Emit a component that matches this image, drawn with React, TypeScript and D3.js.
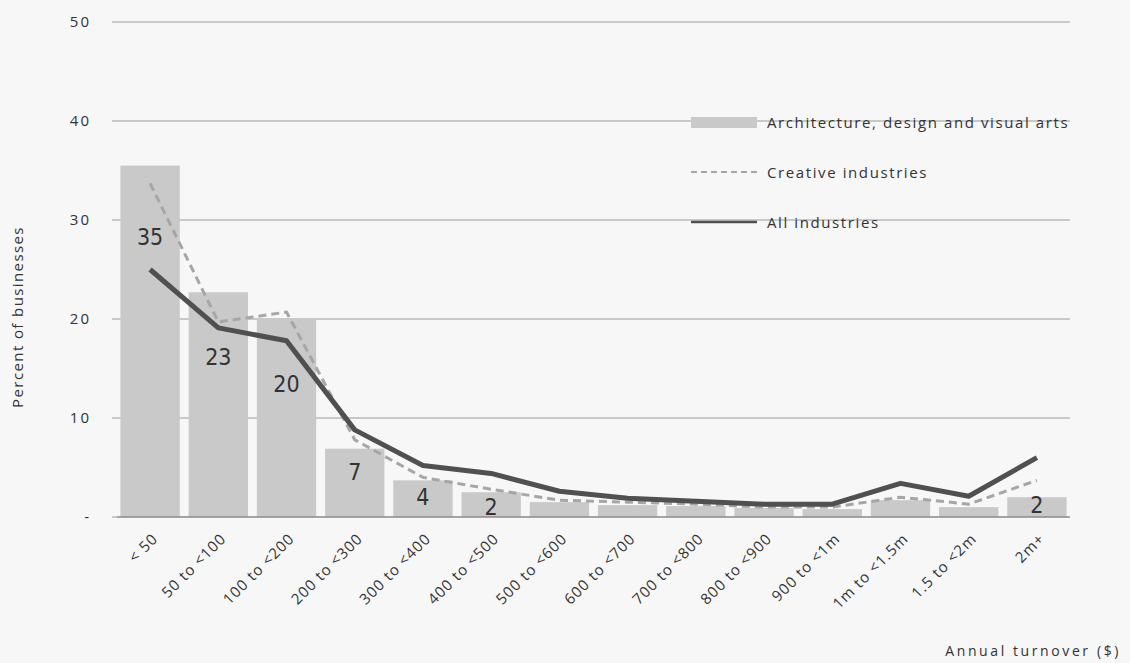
import React from "react";
import * as d3 from "d3";

const categories = ["< 50", "50 to <100", "100 to <200", "200 to <300", "300 to <400", "400 to <500", "500 to <600", "600 to <700", "700 to <800", "800 to <900", "900 to <1m", "1m to <1.5m", "1.5 to <2m", "2m+"];
const archValues = [35.5, 22.7, 19.9, 6.9, 3.7, 2.5, 1.5, 1.2, 1.1, 0.9, 0.8, 1.7, 1.0, 2.0];
const creativeValues = [33.7, 19.7, 20.7, 7.8, 4.0, 2.8, 1.7, 1.5, 1.3, 1.0, 1.0, 2.0, 1.3, 3.7];
const allValues = [25.0, 19.1, 17.8, 8.8, 5.2, 4.4, 2.6, 1.9, 1.6, 1.3, 1.3, 3.4, 2.1, 6.0];
const dataLabels = ["35", "23", "20", "7", "4", "2", "", "", "", "", "", "", "", "2"];
const labelLevels = [28.3, 16.2, 13.4, 4.6, 2.0, 1.0, 0, 0, 0, 0, 0, 0, 0, 1.2];
const yTicks = [0, 10, 20, 30, 40, 50];
const legendItems = ["Architecture, design and visual arts", "Creative industries", "All industries"];

const W = 1130, H = 663;
const left = 117, right = 1070, top = 22, bottom = 517;
const FONT = "'Open Sans', Lato, sans-serif";
const LFONT = "'DejaVu Sans Condensed', 'Open Sans', sans-serif";

export default function App() {
  const x = d3.scaleBand<string>().domain(categories).range([left, right]).paddingInner(0.13).paddingOuter(0.05);
  const y = d3.scaleLinear().domain([0, 50]).range([bottom, top]);
  const cx = (i: number) => (x(categories[i]) as number) + x.bandwidth() / 2;
  const line = d3.line<number>().x((_, i) => cx(i)).y((d) => y(d));

  return (
    <svg width={W} height={H} style={{ position: "absolute", left: 0, top: 0, background: "#f7f7f7" }}>
      <rect x={0} y={0} width={W} height={H} fill="#f7f7f7" />
      {yTicks.map((t) => (
        <g key={t}>
          {t > 0 && <line x1={left} x2={right} y1={y(t)} y2={y(t)} stroke="#9a9a9a" strokeWidth={1} />}
          <line x1={left - 5} x2={left} y1={y(t)} y2={y(t)} stroke="#9a9a9a" strokeWidth={1} />
          <text x={91} y={y(t)} dy="0.35em" textAnchor="end" fontFamily={FONT} fontSize={15} letterSpacing={2} fill="#333">
            {t === 0 ? "-" : t}
          </text>
        </g>
      ))}
      {archValues.map((v, i) => (
        <rect key={i} x={x(categories[i])} y={y(v)} width={x.bandwidth()} height={bottom - y(v)} fill="#c9c9c9" />
      ))}
      <line x1={left} x2={right} y1={bottom} y2={bottom} stroke="#8a8a8a" strokeWidth={1.5} />
      <path d={line(creativeValues) || ""} fill="none" stroke="#a6a6a6" strokeWidth={3} strokeDasharray="8,5" />
      <path d={line(allValues) || ""} fill="none" stroke="#505050" strokeWidth={5} strokeLinejoin="round" />
      {dataLabels.map((l, i) =>
        l ? (
          <text key={i} x={cx(i)} y={y(labelLevels[i])} dy="0.35em" textAnchor="middle" fontFamily={LFONT} fontSize={23} fill="#333">
            {l}
          </text>
        ) : null
      )}
      {categories.map((c, i) => (
        <text key={c} transform={`translate(${cx(i) + 5},${536}) rotate(-45)`} textAnchor="end" dy="0.35em" fontFamily={FONT} fontSize={15} letterSpacing={1} fill="#333">
          {c}
        </text>
      ))}
      <text transform={`translate(23,${317}) rotate(-90)`} textAnchor="middle" fontFamily={FONT} fontSize={15} letterSpacing={1.4} fill="#333">
        Percent of businesses
      </text>
      <text x={1121} y={656} textAnchor="end" fontFamily={FONT} fontSize={14} letterSpacing={2.6} fill="#333">
        Annual turnover ($)
      </text>
      <g>
        <rect x={691} y={117} width={66} height={11} fill="#c9c9c9" />
        <line x1={691} x2={757} y1={172} y2={172} stroke="#a6a6a6" strokeWidth={2} strokeDasharray="6,4" />
        <line x1={691} x2={757} y1={222} y2={222} stroke="#505050" strokeWidth={2.5} />
        {legendItems.map((t, i) => (
          <text key={t} x={767} y={123 + i * 50} dy="0.35em" fontFamily={FONT} fontSize={15} letterSpacing={1.6} fill="#333">
            {t}
          </text>
        ))}
      </g>
    </svg>
  );
}
